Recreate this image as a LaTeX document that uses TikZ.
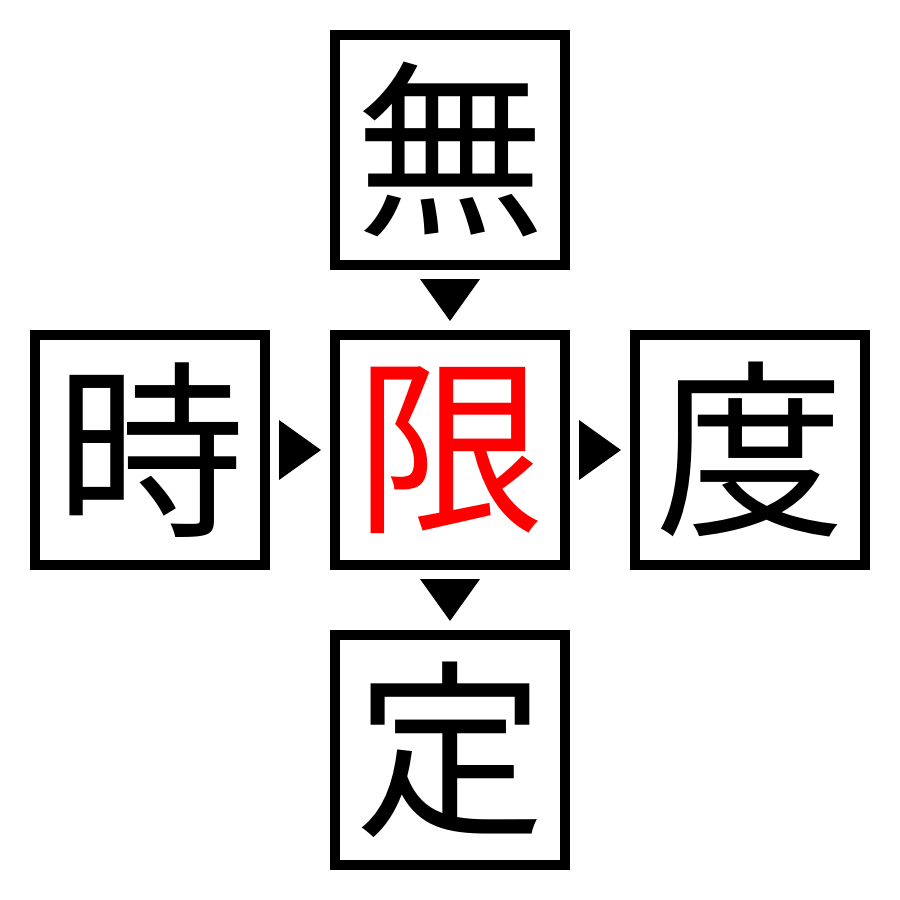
\documentclass[tikz,border=0pt]{standalone}
\usepackage{fontspec}
\newfontfamily\cjk{Noto Sans CJK JP}
\usetikzlibrary{calc}
\begin{document}
\begin{tikzpicture}[x=0.01cm,y=-0.01cm,
  kbox/.style={draw=black,line width=0.1cm,minimum size=2.3cm,inner sep=0pt,font=\cjk\fontsize{54pt}{54pt}\selectfont},
  tri/.style={fill=black}]
\useasboundingbox (0,0) rectangle (900,900);
\node[kbox] (top) at (450,150) {無};
\node[kbox] (left) at (150,450) {時};
\node[kbox,text=red] (center) at (450,450) {限};
\node[kbox] (right) at (750,450) {度};
\node[kbox] (bottom) at (450,750) {定};
% down arrowheads
\coordinate (m1) at ($(top.south)!0.5!(center.north)$);
\fill[tri] ($(m1)+(-30,-21)$) -- ($(m1)+(30,-21)$) -- ($(m1)+(0,21)$) -- cycle;
\coordinate (m2) at ($(center.south)!0.5!(bottom.north)$);
\fill[tri] ($(m2)+(-30,-21)$) -- ($(m2)+(30,-21)$) -- ($(m2)+(0,21)$) -- cycle;
% right arrowheads
\coordinate (m3) at ($(left.east)!0.5!(center.west)$);
\fill[tri] ($(m3)+(-21,-30)$) -- ($(m3)+(-21,30)$) -- ($(m3)+(21,0)$) -- cycle;
\coordinate (m4) at ($(center.east)!0.5!(right.west)$);
\fill[tri] ($(m4)+(-21,-30)$) -- ($(m4)+(-21,30)$) -- ($(m4)+(21,0)$) -- cycle;
\end{tikzpicture}
\end{document}
